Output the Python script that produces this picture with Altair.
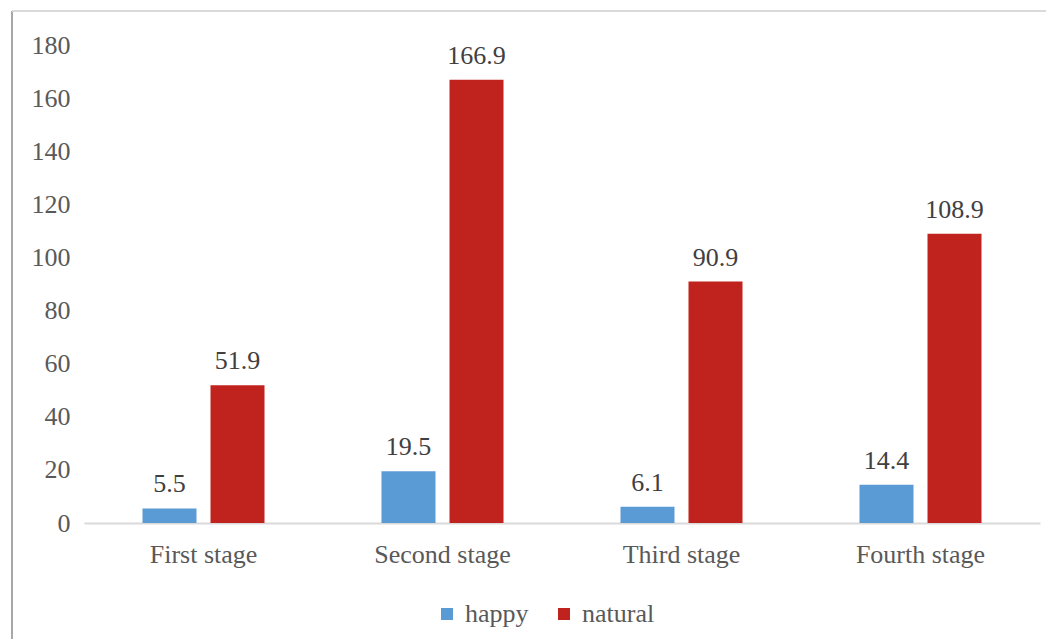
import altair as alt
import pandas as pd

stages = ["First stage", "Second stage", "Third stage", "Fourth stage"]
series = ["happy", "natural"]
happy = [5.5, 19.5, 6.1, 14.4]
natural = [51.9, 166.9, 90.9, 108.9]
colors = ["#5B9BD5", "#C0231D"]
y_ticks = [0, 20, 40, 60, 80, 100, 120, 140, 160, 180]

rows = []
for i, s in enumerate(stages):
    rows.append({"stage": s, "series": "happy", "value": happy[i]})
    rows.append({"stage": s, "series": "natural", "value": natural[i]})
df = pd.DataFrame(rows)

FONT = "'Times New Roman', 'Liberation Serif', serif"
GREY = "#595959"

x_enc = alt.X("stage:N", sort=stages, title=None,
              scale=alt.Scale(paddingInner=0, paddingOuter=0),
              axis=alt.Axis(labelAngle=0, ticks=False, domainColor="#D9D9D9", domainWidth=2,
                            labelFont=FONT, labelFontSize=26, labelColor=GREY,
                            labelPadding=18, labelBaseline="top"))
xo_enc = alt.XOffset("series:N", sort=series,
                     scale=alt.Scale(paddingInner=0.206, paddingOuter=0.86))
y_enc = alt.Y("value:Q", title=None,
              scale=alt.Scale(domain=[0, 180], nice=False),
              axis=alt.Axis(values=y_ticks, grid=False, ticks=False, domain=False,
                            labelFont=FONT, labelFontSize=26, labelColor=GREY,
                            labelPadding=14))

base = alt.Chart(df)
bars = base.mark_bar().encode(
    x=x_enc, xOffset=xo_enc, y=y_enc,
    color=alt.Color("series:N", sort=series,
                    scale=alt.Scale(domain=series, range=colors),
                    legend=alt.Legend(title=None, orient="none", direction="horizontal",
                                      legendX=350, legendY=556, padding=0,
                                      symbolType="square", symbolSize=144,
                                      symbolStrokeWidth=0, labelOffset=5,
                                      columnPadding=22,
                                      labelFont=FONT, labelFontSize=26, labelColor=GREY)),
)
labels = base.mark_text(font=FONT, fontSize=26, color="#404040",
                        baseline="alphabetic", dy=-16).encode(
    x=x_enc, xOffset=xo_enc, y=y_enc, text=alt.Text("value:Q", format=".1f"),
)

frame_df = pd.DataFrame({"k": [0]})
left_line = alt.Chart(frame_df).mark_rule(color="#A8A8A8", strokeWidth=2).encode(
    x=alt.value(-72), y=alt.value(-34), y2=alt.value(594))
top_line = alt.Chart(frame_df).mark_rule(color="#DADADA", strokeWidth=2).encode(
    x=alt.value(-72), x2=alt.value(962), y=alt.value(-34))

chart = alt.layer(left_line, top_line, bars, labels).properties(
    width=956, height=478,
    autosize=alt.AutoSizeParams(type="none"),
    padding={"left": 84, "top": 45, "right": 6, "bottom": 116},
    background="white",
).configure(font=FONT).configure_view(stroke=None)

chart.save("out.html", embed_options={"renderer": "svg", "actions": False})
